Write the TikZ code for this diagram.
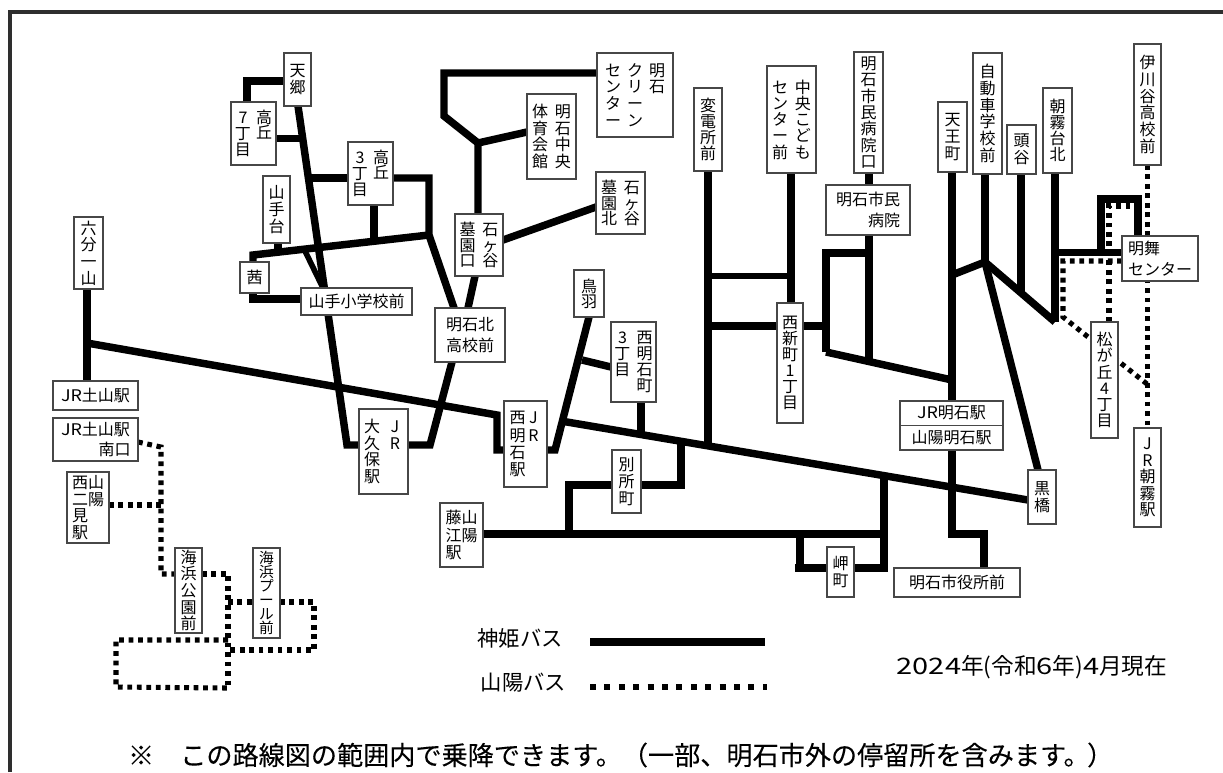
\documentclass[tikz,border=0pt]{standalone}
\usepackage{fontspec}
\setmainfont{Noto Sans CJK JP}
\usetikzlibrary{backgrounds}
\tikzset{
  stn/.style={draw=black!72,line width=0.9pt,fill=white,inner sep=0pt,outer sep=0pt,font=\fontsize{12}{15.5}\selectfont,align=center},
  bus/.style={draw=black,line width=5.6pt,line cap=butt,line join=miter},
  busthin/.style={draw=black,line width=4.2pt,line cap=butt,line join=miter},
  san/.style={draw=black,line width=3.8pt,line cap=butt,dash pattern=on 3.6pt off 3.5pt},
  lbl/.style={inner sep=0pt,outer sep=0pt}
}
\newcommand\vcfs{12}
\newcommand\vc[2][12.5pt]{\vtop{\let\\\cr\fontsize{\vcfs}{#1}\selectfont\baselineskip=#1\relax\lineskiplimit=-100pt\relax\lineskip=0pt\relax\halign{\hbox to 1em{\hfil##\hfil}\cr#2\crcr}}}
\newcommand\bx[6]{\node[stn,minimum width={(#4-#2)*0.75pt},minimum height={(#5-#3)*0.75pt}] (#1) at ({(#2+#4)/2},{(#3+#5)/2}) {#6};}
\newcommand\wdn[1]{{\addfontfeature{FakeStretch=1.28}#1}}
\newcommand\wdj[1]{{\addfontfeature{FakeStretch=1.12}#1}}
\begin{document}
\begin{tikzpicture}[x=0.75pt,y=-0.75pt]
\useasboundingbox (0,0) rectangle (1223,772);
\coordinate (frameA) at (10,772);
\coordinate (frameB) at (10,12);
\coordinate (frameC) at (1223,12);
\draw[black!82,line width=2.6pt] (frameA) -- (frameB) -- (frameC);

% stations
\bx{tengo}{284}{53}{311}{106}{\vc{天\\郷}}
\bx{taka7}{231}{102}{276}{165}{\vc[12pt]{7\\丁\\目}\hspace{3.8pt}\vc[11.5pt]{高\\丘}}
\bx{taka3}{348}{142}{393}{205}{\vc[12pt]{3\\丁\\目}\hspace{3.8pt}\vc[11.5pt]{高\\丘}}
\bx{yamate}{263}{176}{290}{243}{\vc{山\\手\\台}}
\bx{akane}{240}{262}{269}{293}{茜}
\bx{ysho}{301}{288}{412}{315}{山手小学校前}
\bx{rokubu}{74}{217}{103}{289}{\vc{六\\分\\一\\山}}
\bx{tsuchi}{53}{381}{138}{410}{\wdj{JR}土山駅}
\bx{tsuchis}{53}{418}{138}{461}{\wdj{JR}土山駅\\\hspace*{2.4em}南口}
\bx{futami}{67}{472}{109}{543}{\vc{西\\二\\見\\駅}\vc{山\\陽}}
\bx{kpark}{175}{548}{202}{633}{\vc{海\\浜\\公\\園\\前}}
\bx{kpool}{253}{548}{280}{638}{\renewcommand\vcfs{11}\vc[10.5pt]{海\\浜\\プ\\ー\\ル\\前}}
\bx{okubo}{359}{409}{408}{494}{\vc{大\\久\\保\\駅}\hspace{5.2pt}\vc{J\\R}}
\bx{clean}{597}{53}{673}{137}{\vc{セ\\ン\\タ\\ー}\hspace{4.5pt}\vc{ク\\リ\\ー\\ン}\hspace{4.5pt}\vc{明\\石}}
\bx{taiiku}{527}{94}{576}{179}{\vc{体\\育\\会\\館}\hspace{5pt}\vc{明\\石\\中\\央}}
\bx{bokita}{596}{172}{645}{234}{\vc[11.4pt]{墓\\園\\北}\hspace{5pt}\vc[11.4pt]{石\\ヶ\\谷}}
\bx{boguchi}{455}{214}{503}{276}{\vc[11.4pt]{墓\\園\\口}\hspace{5pt}\vc[11.4pt]{石\\ヶ\\谷}}
\bx{kita}{435}{308}{505}{362}{明石北\\高校前}
\bx{toba}{574}{270}{604}{317}{\vc[11.4pt]{鳥\\羽}}
\bx{nishi3}{611}{322}{656}{402}{\vc[12pt]{3\\丁\\目}\hspace{4.6pt}\vc[12pt]{西\\明\\石\\町}}
\bx{hen}{694}{88}{722}{171}{\vc[12pt]{変\\電\\所\\前}}
\bx{kodomo}{767}{66}{816}{173}{\vc[12.2pt]{セ\\ン\\タ\\ー\\前}\hspace{5.2pt}\vc[12.2pt]{中\\央\\こ\\ど\\も}}
\bx{shin}{777}{303}{803}{423}{\vc[12pt]{西\\新\\町\\1\\丁\\目}}
\bx{byoguchi}{854}{52}{883}{173}{\vc[12.3pt]{明\\石\\市\\民\\病\\院\\口}}
\bx{byoin}{826}{185}{910}{235}{明石市民\\\hspace*{2em}病院}
\bx{tenno}{938}{102}{967}{172}{\vc{天\\王\\町}}
\bx{jidosha}{973}{53}{1002}{174}{\vc{自\\動\\車\\学\\校\\前}}
\bx{zutani}{1007}{125}{1036}{174}{\vc{頭\\谷}}
\bx{asagiri}{1043}{88}{1072}{173}{\vc[12pt]{朝\\霧\\台\\北}}
\bx{ikawa}{1134}{44}{1161}{165}{\vc{伊\\川\\谷\\高\\校\\前}}
\bx{meimai}{1122}{236}{1198}{281}{明舞\hspace*{2em}\\センター}
\bx{matsu}{1091}{322}{1118}{438}{\vc[12.2pt]{松\\が\\丘\\4\\丁\\目}}
\bx{jrasa}{1134}{428}{1161}{527}{\vc[12.3pt]{J\\R\\朝\\霧\\駅}}
\bx{jrnishi}{504}{401}{547}{487}{\vc[12.8pt]{西\\明\\石\\駅}\vc[12.8pt]{J\\R}}
\bx{betsu}{612}{450}{641}{513}{\vc{別\\所\\町}}
\bx{fujie}{440}{503}{483}{567}{\vc[13pt]{藤\\江\\駅}\vc[13pt]{山\\陽}}
\bx{jraka}{900}{401}{1003}{425.5}{\wdj{JR}明石駅}
\bx{syaka}{900}{425.5}{1003}{450}{山陽明石駅}
\bx{kuro}{1028}{470}{1056}{524}{\vc[13pt]{黒\\橋}}
\bx{misaki}{827}{547}{854}{597}{\vc{岬\\町}}
\bx{shiyaku}{894}{568}{1020}{597}{明石市役所前}

% junctions
\coordinate (trunkT) at (298,106);
\coordinate (trunkB) at (347,445);
\coordinate (tl) at (247,81);
\coordinate (t7) at (300,138.5);
\coordinate (t3l) at (310,178);
\coordinate (hr1) at (429,178);
\coordinate (hr2) at (429,235);
\coordinate (ak) at (253,255);
\coordinate (j3) at (374,240);
\coordinate (jy) at (278,252);
\coordinate (bA) at (305,251);
\coordinate (bB) at (323,288);
\coordinate (ak2) at (253,299);
\coordinate (longA) at (87,343);
\coordinate (longB) at (497,415);
\coordinate (longC) at (497,450);
\coordinate (toB) at (555,450);
\coordinate (long2A) at (561,421);
\coordinate (long2B) at (1028,500);
\coordinate (kB) at (430,445);
\coordinate (topA) at (444,73);
\coordinate (topB) at (444,116);
\coordinate (topJ) at (478,143);
\coordinate (tobaJ) at (582,360);
\coordinate (n3J) at (641,435);
\coordinate (henB) at (708,449);
\coordinate (h1) at (708,276);
\coordinate (h2) at (791,276);
\coordinate (h3) at (708,326);
\coordinate (lp0) at (826,326);
\coordinate (lp1) at (826,253);
\coordinate (lp2) at (869,253);
\coordinate (lp3) at (869,361);
\coordinate (lp4) at (826,352);
\coordinate (lp5) at (952,380);
\coordinate (tb) at (952,275);
\coordinate (jc) at (985,262);
\coordinate (jd) at (1055,322);
\coordinate (zb) at (1021,292);
\coordinate (as) at (1055,252.5);
\coordinate (up1) at (1101,252.5);
\coordinate (up2) at (1101,199);
\coordinate (up3) at (1138,199);
\coordinate (be1) at (569,485);
\coordinate (be2) at (569,534);
\coordinate (be3) at (681,485);
\coordinate (be4) at (681,443);
\coordinate (fj) at (884,534);
\coordinate (fj2) at (884,568);
\coordinate (fj3) at (884,477);
\coordinate (mi1) at (795,568);
\coordinate (mi2) at (800,568);
\coordinate (mi3) at (800,534);
\coordinate (ak1) at (952,534);
\coordinate (ak3) at (984,534);
% sanyo
\coordinate (s1) at (161,447);
\coordinate (s2) at (161,574);
\coordinate (s3) at (161,505);
\coordinate (s4) at (228,574);
\coordinate (s5) at (228,688);
\coordinate (s6) at (228,602);
\coordinate (s7) at (314,602);
\coordinate (s8) at (314,650);
\coordinate (s9) at (228,650);
\coordinate (s10) at (228,640);
\coordinate (s11) at (116,640);
\coordinate (s12) at (116,687);
\coordinate (m1) at (1109,206);
\coordinate (m2) at (1134,206);
\coordinate (m3) at (1063,261);
\coordinate (m4) at (1063,317);
\coordinate (m5) at (1147,384);

\begin{pgfonlayer}{background}
% Sanyo bus
\draw[san] (tsuchis.east |- 0,442) -- (s1) -- (s2) -- (kpark.west |- s2);
\draw[san] (futami.east |- 0,505) -- (s3);
\draw[san] (kpark.east |- s4) -- (s4) -- (s5);
\draw[san] (s6) -- (kpool.west |- s6);
\draw[san] (kpool.east |- s7) -- (s7) -- (s8) -- (s9);
\draw[san] (s10) -- (s11) -- (s12) -- (s5);
\draw[san] (ikawa.south) -- (jrasa.north);
\draw[san] (matsu.north -| m1) -- (m1) -- (m2);
\draw[san] (meimai.west |- m3) -- (m3) -- (m4) -- (m5);
% Shinki bus
\draw[bus] (tengo.west |- tl) -- (tl) -- (taka7.north -| tl);
\draw[bus] (taka7.east |- t7) -- (t7);
\draw[bus] (trunkT) -- (trunkB) -- (okubo.west |- trunkB);
\draw[bus] (t3l) -- (taka3.west |- t3l);
\draw[bus] (taka3.east |- hr1) -- (hr1) -- (hr2) -- (kita.north -| 454,0);
\draw[bus] (taka3.south -| j3) -- (j3);
\draw[bus] (hr2) -- (ak) -- (akane.north -| ak);
\draw[bus] (yamate.south -| jy) -- (jy);
\draw[busthin] (bA) -- (bB);
\draw[bus] (akane.south -| ak2) -- (ak2) -- (ysho.west |- ak2);
\draw[bus] (rokubu.south -| longA) -- (tsuchi.north -| longA);
\draw[bus] (longA) -- (longB) -- (longC) -- (jrnishi.west |- longC);
\draw[bus] (jrnishi.east |- toB) -- (toB) -- (toba.south -| 589,0);
\draw[bus] (long2A) -- (long2B);
\draw[bus] (kita.south -| 452,0) -- (kB) -- (okubo.east |- kB);
\draw[bus] (boguchi.south -| 475,0) -- (kita.north -| 468,0);
\draw[bus] (boguchi.east |- 0,240) -- (bokita.west |- 0,207);
\draw[bus] (boguchi.north -| topJ) -- (topJ) -- (topB) -- (topA) -- (clean.west |- topA);
\draw[bus] (taiiku.west |- 0,132) -- (topJ);
\draw[bus] (nishi3.west |- 0,367) -- (tobaJ);
\draw[bus] (nishi3.south -| n3J) -- (n3J);
\draw[bus] (hen.south -| henB) -- (henB);
\draw[bus] (kodomo.south -| h2) -- (shin.north -| h2);
\draw[busthin] (h1) -- (h2);
\draw[bus] (h3) -- (shin.west |- h3);
\draw[bus] (shin.east |- lp0) -- (lp0);
\draw[bus] (lp4) -- (lp1) -- (lp2);
\draw[bus] (byoguchi.south -| lp2) -- (byoin.north -| lp2);
\draw[bus] (byoin.south -| lp2) -- (lp3);
\draw[bus] (lp4) -- (lp5);
\draw[bus] (tenno.south -| lp5) -- (jraka.north -| lp5);
\draw[bus] (tb) -- (jc);
\draw[bus] (jidosha.south -| jc) -- (jc);
\draw[bus] (jc) -- (kuro.north -| 1038,0);
\draw[bus] (jc) -- (jd);
\draw[bus] (zutani.south -| zb) -- (zb);
\draw[bus] (asagiri.south -| jd) -- (jd);
\draw[bus] (as) -- (meimai.west |- as);
\draw[bus] (up1) -- (up2) -- (up3) -- (meimai.north -| up3);
\draw[bus] (fujie.east |- fj) -- (fj);
\draw[bus] (betsu.west |- be1) -- (be1) -- (be2);
\draw[bus] (betsu.east |- be3) -- (be3) -- (be4);
\draw[bus] (fj3) -- (fj2) -- (misaki.east |- fj2);
\draw[bus] (misaki.west |- mi1) -- (mi1);
\draw[bus] (mi2) -- (mi3);
\draw[bus] (syaka.south -| ak1) -- (ak1) -- (ak3) -- (shiyaku.north -| ak3);
\end{pgfonlayer}

% legend
\node[lbl,font=\fontsize{16}{16}\selectfont] (lg1) at (520,638) {神姫バス};
\node[lbl,font=\fontsize{16}{16}\selectfont] (lg2) at (523.5,683) {山陽バス};
\coordinate (lg1a) at (590,642);
\coordinate (lg1b) at (765,642);
\coordinate (lg2a) at (590,687);
\coordinate (lg2b) at (767,687);
\draw[bus] (lg1a) -- (lg1b);
\draw[draw=black,line width=4.5pt,dash pattern=on 4.5pt off 6.3pt] (lg2a) -- (lg2b);
\node[lbl,font=\fontsize{17}{17}\selectfont] (date) at (1032,667) {\wdn{2024}年(令和\wdn{6}年)\wdn{4}月現在};
\node[lbl,anchor=west,font=\fontsize{19.6}{20}\selectfont\addfontfeature{FakeBold=0.2}] (note) at (128,755) {※\hspace{1em}この路線図の範囲内で乗降できます。（一部、明石市外の停留所を含みます。\hspace{-0.1em}）};
\end{tikzpicture}
\end{document}
